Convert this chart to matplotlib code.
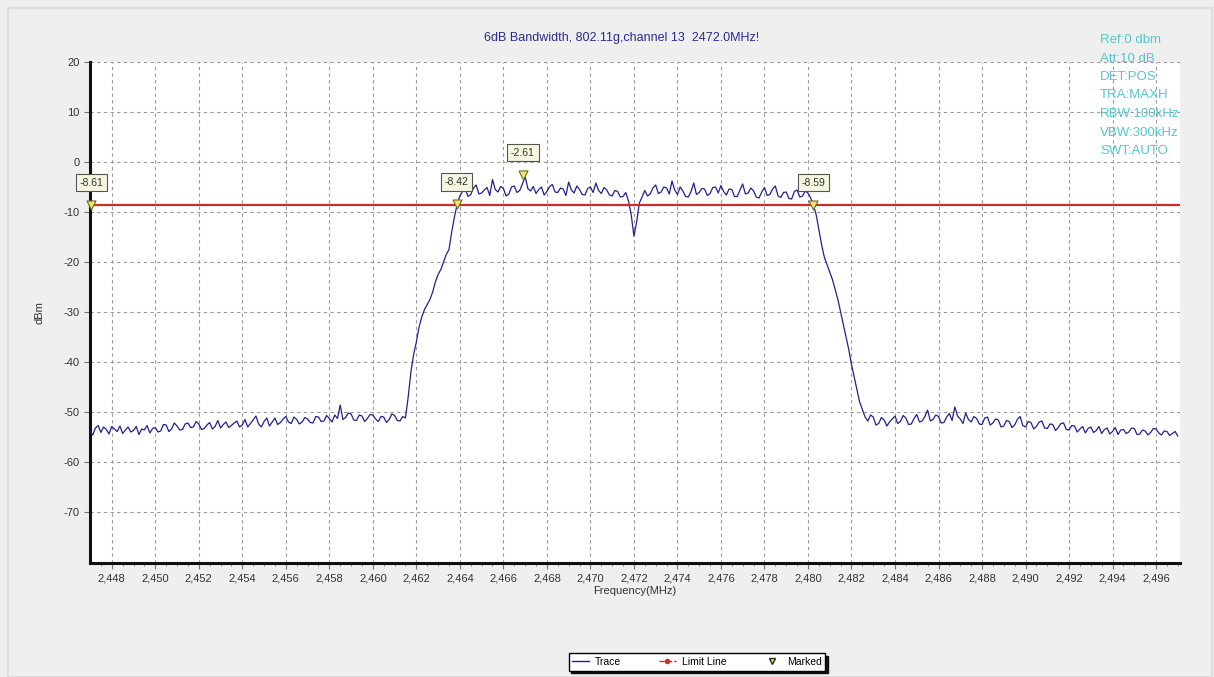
"""6dB bandwidth plot, 802.11g channel 13"""
import matplotlib
matplotlib.use("Agg")
import matplotlib.pyplot as plt
from matplotlib.lines import Line2D
from matplotlib.patches import Rectangle
import numpy as np

plt.rcParams['font.family'] = ['Liberation Sans', 'DejaVu Sans']
plt.rcParams['axes.unicode_minus'] = False

# sweep start and step (MHz)
START_FREQ = 2447.0
STEP_FREQ = 0.125

# trace levels (dBm), one per sweep point
level = [
    # noise floor, left side
    -53.8, -54.6, -53.2, -52.7, -54.1, -53.0, -53.5, -54.4, -52.9, -53.4,
    -53.9, -52.8, -54.3, -53.6, -53.0, -54.0, -53.7, -52.9, -54.5, -53.4,
    -53.6, -52.7, -54.2, -53.3, -53.1, -54.0, -53.8, -52.5, -52.6, -53.9,
    -53.4, -52.2, -52.8, -53.6, -53.5, -52.4, -52.2, -53.1, -53.0, -51.9,
    -52.4, -53.5, -53.3, -52.6, -52.1, -53.4, -52.9, -51.7, -53.2, -52.5,
    -52.0, -53.1, -52.7, -52.2, -51.8, -53.0, -52.6, -51.5, -53.0, -52.3,
    -51.6, -50.8, -52.4, -53.0, -51.9, -51.2, -52.8, -52.0, -51.2, -52.5,
    -52.1, -51.4, -50.9, -52.0, -52.3, -51.0, -51.5, -52.4, -52.0, -51.1,
    -51.4, -52.1, -52.2, -50.9, -51.0, -51.9, -51.8, -50.7, -51.3, -52.0,
    -50.6, -51.3, -48.6, -51.5, -51.1, -50.2, -50.4, -51.6, -51.7, -50.6,
    -50.8, -51.9, -51.3, -50.5, -50.6, -51.4, -51.9, -50.9, -51.0, -52.1,
    -51.5, -50.4, -50.7, -51.7, -51.8, -50.9, -51.2,
    # rising edge
    -47.0, -42.0, -38.5, -36.0, -33.0, -31.0, -29.5, -28.5, -27.5,
    -26.0, -24.0, -22.5, -21.5, -20.0, -18.5, -17.5, -14.0, -11.0, -8.5,
    # in band
    -6.8, -5.9, -5.4, -6.9, -6.5, -5.2, -4.6, -6.4, -6.2, -5.6,
    -5.1, -6.7, -3.5, -5.5, -6.0, -4.9, -5.3, -6.8, -6.4, -5.0,
    -4.8, -6.1, -5.7, -4.4, -2.9, -5.3, -5.8, -4.9, -6.3, -5.5,
    -5.0, -6.6, -5.9, -4.9, -4.5, -6.0, -6.1, -5.2, -5.4, -6.7,
    -4.0, -5.6, -6.2, -4.8, -5.5, -6.5, -6.6, -5.3, -5.0, -6.1,
    -4.2, -5.7, -6.3, -5.1, -5.6, -6.6, -6.8, -5.7, -5.9, -7.0,
    -6.9, -6.1, -7.8, -10.5, -14.8, -12.0, -8.2, -7.0, -5.7, -6.8,
    -6.4, -5.2, -4.6, -6.3, -6.0, -5.0, -5.2, -6.4, -3.8, -5.6,
    -6.5, -5.0, -5.8, -6.9, -7.0, -5.9, -4.2, -6.5, -6.1, -5.3,
    -5.4, -6.7, -6.3, -5.1, -5.0, -6.2, -4.7, -5.9, -6.6, -5.4,
    -5.5, -6.9, -6.9, -5.6, -4.4, -6.4, -6.2, -5.2, -5.8, -7.0,
    -7.2, -6.0, -5.1, -6.7, -6.5, -5.4, -4.8, -6.8, -7.1, -6.1,
    -6.0, -7.3, -7.4, -5.9, -5.6, -7.0, -6.8, -5.8, -6.2, -7.2,
    -8.6,
    # falling edge
    -10.5, -13.5, -16.5, -19.0, -20.5, -22.0, -23.5, -25.5, -27.5,
    -30.0, -32.5, -35.0, -37.5, -40.5, -43.0, -45.5, -48.0, -49.5, -51.0,
    -51.8, -50.6,
    # noise floor, right side
    -51.0, -52.6, -52.3, -51.1, -51.6, -52.8, -52.0, -51.4, -50.8, -52.3,
    -51.9, -50.7, -51.2, -52.5, -52.4, -51.3, -50.5, -52.0, -51.8, -50.9,
    -49.6, -51.8, -51.5, -50.6, -50.9, -52.2, -52.1, -51.0, -50.3, -51.7,
    -49.0, -50.8, -51.4, -52.3, -50.2, -51.5, -52.0, -50.9, -51.3, -52.4,
    -52.5, -51.2, -51.0, -52.6, -52.2, -51.4, -51.6, -53.0, -52.8, -51.7,
    -51.9, -53.1, -52.6, -51.5, -50.9, -52.7, -53.0, -51.9, -52.1, -53.4,
    -52.9, -52.0, -51.8, -53.2, -53.3, -52.4, -52.5, -53.7, -53.1, -52.3,
    -52.2, -53.5, -53.6, -52.7, -52.8, -54.0, -53.4, -52.9, -54.2, -53.3,
    -53.0, -54.1, -53.7, -52.9, -54.3, -53.5, -53.2, -54.4, -53.9, -53.1,
    -54.5, -53.6, -53.5, -54.3, -54.0, -53.2, -53.3, -54.5, -54.4, -53.6,
    -53.8, -54.6, -54.1, -53.3, -53.4, -54.2, -54.6, -53.8, -53.9, -54.7,
    -54.3, -53.9, -54.8,
]

# markers
marker_freq = [2447.05, 2463.85, 2466.9, 2480.25]
marker_level = [-8.61, -8.42, -2.61, -8.59]
marker_text = ["-8.61", "-8.42", "-2.61", "-8.59"]

limit_level = -8.61

x_ticks = list(range(2448, 2497, 2))
y_ticks = [20, 10, 0, -10, -20, -30, -40, -50, -60, -70]

settings = ["Ref:0 dbm", "Att:10 dB", "DET:POS", "TRA:MAXH",
            "RBW:100kHz", "VBW:300kHz", "SWT:AUTO"]

TRACE_COLOR = "#22228c"
LIMIT_COLOR = "#d42a2a"
SETTING_COLOR = "#55c6cc"


def main():
    """Draw and save"""
    freq = START_FREQ + STEP_FREQ * np.arange(len(level))

    fig = plt.figure(figsize=(12.14, 6.77), dpi=100, facecolor="#efefef")
    fig.patches.append(Rectangle((8 / 1214, 0), 1204 / 1214, 669 / 677,
                                 transform=fig.transFigure, fill=False,
                                 edgecolor="#dcdcdc", linewidth=1.5))
    ax = fig.add_axes([90 / 1214, 1 - 563 / 677, 1090 / 1214, 501 / 677])
    ax.set_facecolor("white")

    ax.plot(freq, level, color=TRACE_COLOR, linewidth=0.9, zorder=3)
    ax.axhline(limit_level, color=LIMIT_COLOR, linewidth=1.6, zorder=4)

    ax.scatter(marker_freq, marker_level, marker="v", s=42, color="#f3e36a",
               edgecolor="#6b6b2a", linewidth=0.8, zorder=6, clip_on=False)
    for mf, ml, mt in zip(marker_freq, marker_level, marker_text):
        ax.annotate(mt, (mf, ml), xytext=(0, 16), textcoords="offset points",
                    ha="center", va="center", fontsize=7.5, color="#333333",
                    bbox=dict(boxstyle="square,pad=0.35", facecolor="#f6f6e0",
                              edgecolor="#555555", linewidth=0.8),
                    zorder=7, annotation_clip=False)

    ax.set_xlim(2447.0, 2497.1)
    ax.set_ylim(-80.2, 20)
    ax.set_xticks(x_ticks)
    ax.set_xticklabels(["{:,}".format(t) for t in x_ticks])
    ax.set_xticks(np.arange(2447.5, 2497.1, 0.5), minor=True)
    ax.set_yticks(y_ticks)
    ax.tick_params(axis="both", labelsize=8, labelcolor="#333333",
                   color="#777777", length=4, width=0.8)
    ax.tick_params(axis="x", which="minor", length=2, color="#777777")
    ax.grid(True, which="major", color="#9a9a9a", linestyle=(0, (3, 3)),
            linewidth=0.8)

    for side in ["top", "right"]:
        ax.spines[side].set_visible(False)
    for side in ["left", "bottom"]:
        ax.spines[side].set_linewidth(2.2)
        ax.spines[side].set_color("#111111")

    ax.set_xlabel("Frequency(MHz)", fontsize=8, color="#333333", labelpad=2)
    ax.set_ylabel("dBm", fontsize=8, color="#333333", labelpad=14)

    fig.text(622 / 1214, 1 - 38 / 677,
             "6dB Bandwidth, 802.11g,channel 13  2472.0MHz!",
             ha="center", va="center", fontsize=9, color="#2a2a90")

    for i, line in enumerate(settings):
        fig.text(1100 / 1214, 1 - (40 + 18.5 * i) / 677, line,
                 ha="left", va="center", fontsize=9.5, color=SETTING_COLOR)

    handles = [
        Line2D([], [], color=TRACE_COLOR, linewidth=1),
        Line2D([], [], color=LIMIT_COLOR, linewidth=1, linestyle="--",
               marker="o", markersize=3),
        Line2D([], [], color="#222222", linestyle="none", marker="v",
               markersize=5, markerfacecolor="#f3e36a"),
    ]
    fig.legend(handles, ["Trace", "Limit Line", "Marked"], ncol=3,
               loc="center", bbox_to_anchor=(697 / 1214, 1 - 662 / 677),
               fontsize=7.5, frameon=True, fancybox=False,
               shadow={"color": "black", "alpha": 0.9},
               edgecolor="black", handlelength=1.6, columnspacing=3.6,
               handletextpad=0.6, borderpad=0.35, borderaxespad=0)

    fig.savefig("out.png", dpi=100, facecolor=fig.get_facecolor())


if __name__ == "__main__":
    main()
